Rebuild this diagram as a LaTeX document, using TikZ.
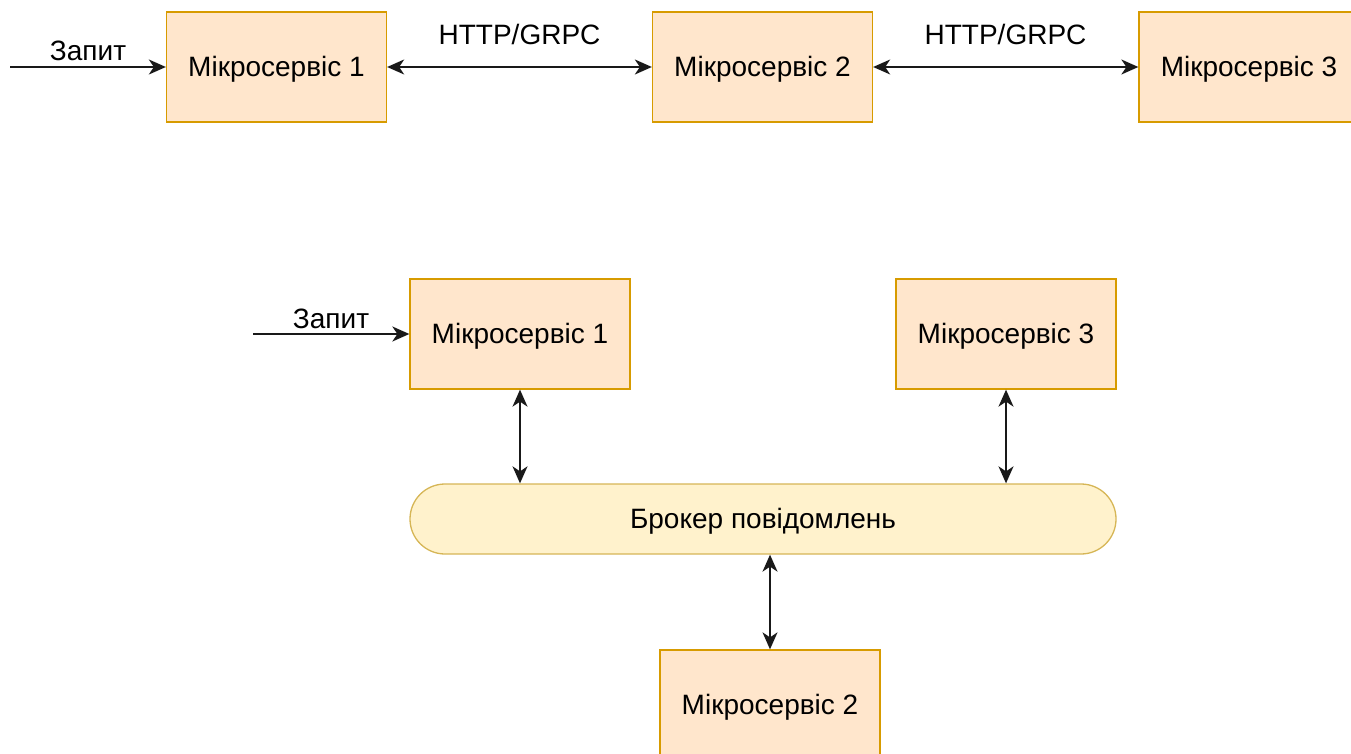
\documentclass[tikz,border=0pt]{standalone}
\usepackage{fontspec}
\setmainfont{Liberation Sans}
\usetikzlibrary{arrows.meta}
\definecolor{svcfill}{HTML}{FFE6CC}
\definecolor{svcline}{HTML}{D79B00}
\definecolor{brkfill}{HTML}{FFF2CC}
\definecolor{brkline}{HTML}{D6B656}
\tikzset{
  txt/.style={font=\fontsize{28}{33}\selectfont},
  svc/.style={txt, draw=svcline, fill=svcfill, line width=1.3pt, minimum width=220pt, minimum height=110pt, inner sep=0pt, text height=25pt, text depth=6pt},
  broker/.style={txt, draw=brkline, fill=brkfill, line width=1.3pt, minimum width=706pt, minimum height=70pt, rounded corners=35pt, inner sep=0pt, text height=25pt, text depth=6pt},
  lbl/.style={txt, inner sep=0pt},
  link/.style={line width=1.5pt, draw=black!90, -{Stealth[length=17pt,width=15pt,inset=5pt]}},
  dlink/.style={line width=1.5pt, draw=black!90, {Stealth[length=17pt,width=15pt,inset=5pt]}-{Stealth[length=17pt,width=15pt,inset=5pt]}}
}
\begin{document}
\begin{tikzpicture}[x=1pt,y=-1pt]
\useasboundingbox (0,0) rectangle (1351,754);

% synchronous chain
\node[svc] (a1) at (276.5,67) {Мікросервіс 1};
\node[svc] (a2) at (762.5,67) {Мікросервіс 2};
\node[svc] (a3) at (1249,67) {Мікросервіс 3};
\coordinate (ain) at (10,67);
\draw[link] (ain) -- (a1.west);
\node[lbl] (areq) at (88,51) {Запит};
\draw[dlink] (a1.east) -- (a2.west);
\draw[dlink] (a2.east) -- (a3.west);
\node[lbl] (h1) at (519.5,34) {HTTP/GRPC};
\node[lbl] (h2) at (1005.5,34) {HTTP/GRPC};

% message broker layout
\node[svc] (b1) at (520,334) {Мікросервіс 1};
\node[svc] (b3) at (1006,334) {Мікросервіс 3};
\node[broker] (brk) at (763,519) {Брокер повідомлень};
\node[svc] (b2) at (770,705) {Мікросервіс 2};
\coordinate (bin) at (253,334);
\draw[link] (bin) -- (b1.west);
\node[lbl] (breq) at (331,319) {Запит};
\draw[dlink] (b1.south) -- (b1.south |- brk.north);
\draw[dlink] (b3.south) -- (b3.south |- brk.north);
\draw[dlink] (b2.north |- brk.south) -- (b2.north);
\end{tikzpicture}
\end{document}
